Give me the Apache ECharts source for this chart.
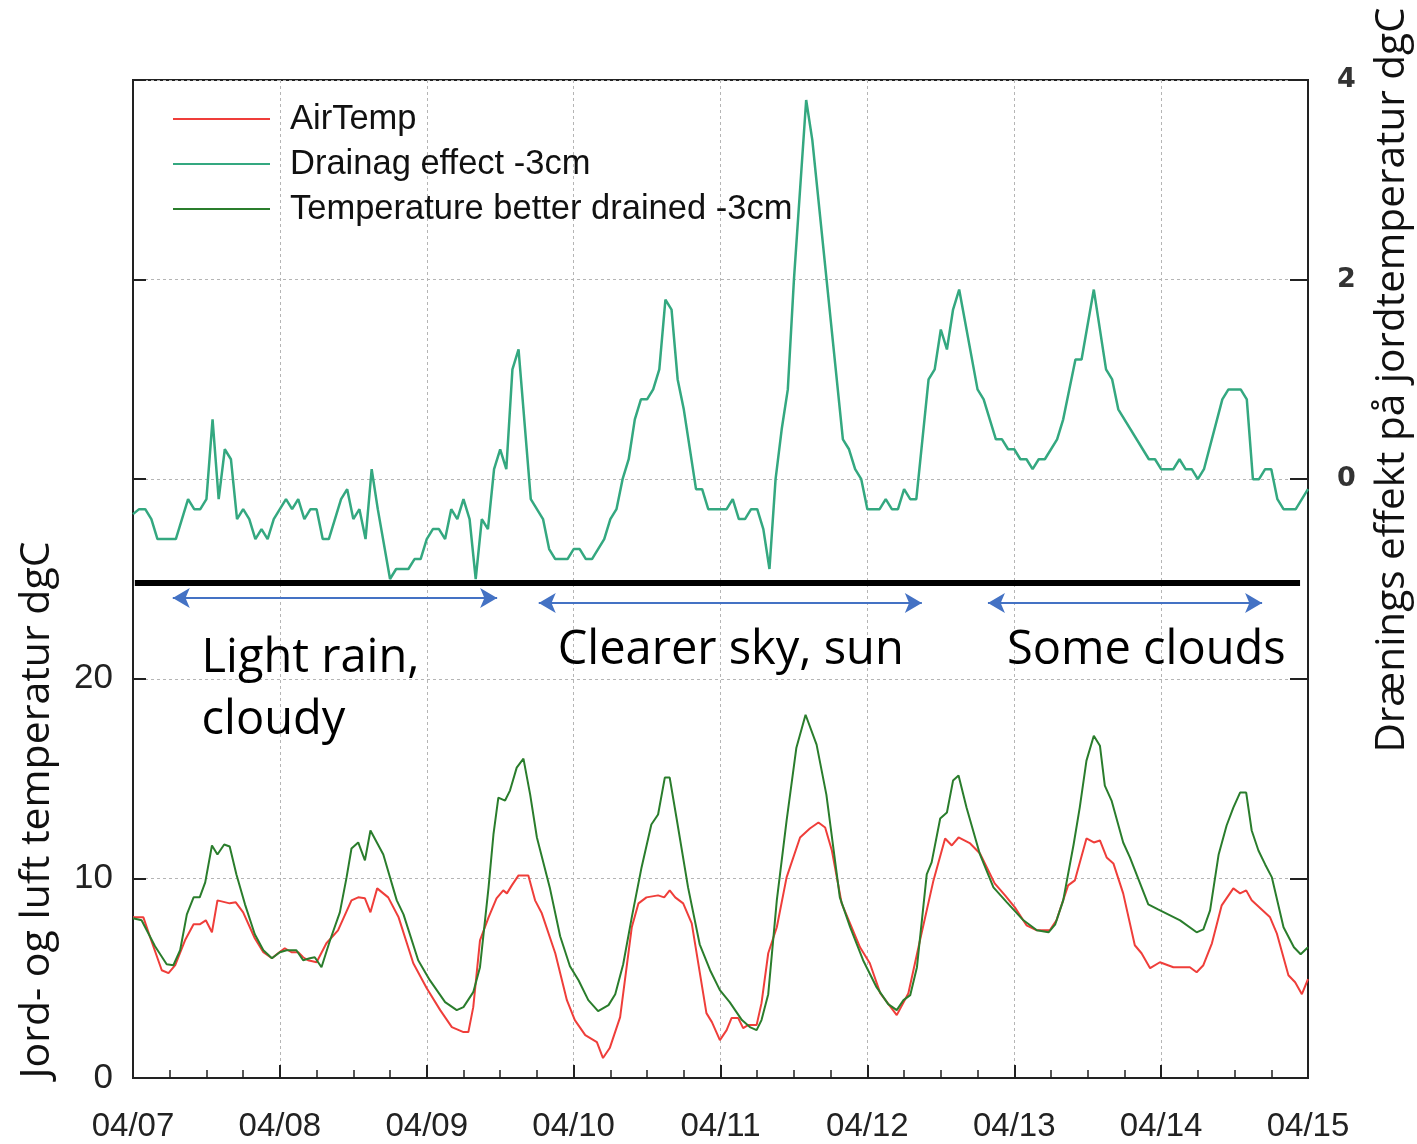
<!DOCTYPE html>
<html>
<head>
<meta charset="utf-8">
<script src="https://cdn.jsdelivr.net/npm/echarts@6/dist/echarts.min.js"></script>
<style>
html,body{margin:0;padding:0;background:#fff;}
#chart{width:1417px;height:1144px;}
</style>
</head>
<body>
<div id="chart"></div>
<script>
// x values are hours since 04/07 00:00
const dayLabels = ['04/07','04/08','04/09','04/10','04/11','04/12','04/13','04/14','04/15'];

const airTemp = [
[0,8.05],[1.7,8.05],[2.8,7.05],[4.7,5.4],[5.8,5.25],[6.9,5.65],[8.5,6.9],[9.9,7.7],[10.9,7.7],[11.9,7.9],[12.9,7.3],[13.8,8.9],[15.8,8.75],[16.8,8.8],[18,8.3],[19.9,7.0],[21.3,6.3],[22.7,6.0],[23.7,6.25],[24.8,6.5],[25.9,6.3],[27,6.3],[27.8,6.05],[28.6,5.9],[30,5.8],[31.6,6.75],[33.5,7.4],[35.7,8.9],[36.8,9.05],[37.9,9.0],[38.8,8.3],[39.9,9.5],[41.7,9.05],[43.4,8.05],[45.8,5.75],[48,4.5],[50.2,3.4],[52.1,2.55],[54,2.3],[54.8,2.3],[55.6,3.55],[56.7,6.9],[58.1,8.05],[59.4,9.0],[60.5,9.4],[61.1,9.25],[61.9,9.65],[63,10.15],[64.6,10.15],[65.7,8.9],[66.8,8.25],[69,6.25],[70.9,3.9],[72.2,2.9],[73.9,2.15],[75.8,1.8],[76.8,1.0],[77.9,1.5],[79.6,3.05],[81.5,7.55],[82.6,8.75],[83.9,9.05],[85.8,9.15],[86.8,9.05],[87.7,9.4],[88.6,9.05],[89.9,8.75],[91.3,7.75],[93.7,3.25],[94.6,2.8],[95.9,1.9],[97,2.4],[97.8,3.0],[98.9,3.0],[99.7,2.5],[100.5,2.65],[101.9,2.65],[102.7,3.75],[103.8,6.25],[105.2,7.55],[106.8,10.05],[109,12.05],[110.6,12.5],[112,12.8],[113.1,12.55],[114.2,11.4],[115.8,8.75],[118.8,6.55],[120.4,5.75],[122.1,4.25],[124.8,3.15],[126.7,4.25],[128.6,6.9],[130.8,9.9],[132.7,12.0],[133.8,11.65],[134.9,12.05],[136.8,11.75],[138.4,11.25],[140.8,9.75],[142.5,9.15],[144.1,8.55],[146,7.65],[147.7,7.4],[149.8,7.4],[150.9,7.9],[152.8,9.65],[153.9,9.9],[155.8,12.0],[157,11.8],[158,11.9],[159.1,11.05],[160.2,10.75],[161.8,9.25],[163.7,6.65],[164.8,6.25],[166.2,5.5],[167.8,5.8],[170,5.55],[172.7,5.55],[173.8,5.3],[174.9,5.65],[176.3,6.75],[177.9,8.65],[179.8,9.5],[180.9,9.25],[181.9,9.4],[182.8,8.9],[185.8,8.05],[186.9,7.25],[188.8,5.15],[189.9,4.8],[191,4.2],[192,4.95]
];

const drainEffect = [
[0,-0.35],[1,-0.3],[2,-0.3],[3,-0.4],[4,-0.6],[7,-0.6],[9,-0.2],[10,-0.3],[11,-0.3],[12,-0.2],[13,0.6],[14,-0.2],[15,0.3],[16,0.2],[17,-0.4],[18,-0.3],[19,-0.4],[20,-0.6],[21,-0.5],[22,-0.6],[23,-0.4],[25,-0.2],[26,-0.3],[27,-0.2],[28,-0.4],[29,-0.3],[30,-0.3],[31,-0.6],[32,-0.6],[34,-0.2],[35,-0.1],[36,-0.4],[37,-0.3],[38,-0.6],[39,0.1],[40,-0.3],[42,-1.0],[43,-0.9],[45,-0.9],[46,-0.8],[47,-0.8],[48,-0.6],[49,-0.5],[50,-0.5],[51,-0.6],[52,-0.3],[53,-0.4],[54,-0.2],[55,-0.4],[56,-1.0],[57,-0.4],[58,-0.5],[59,0.1],[60,0.3],[61,0.1],[62,1.1],[63,1.3],[65,-0.2],[67,-0.4],[68,-0.7],[69,-0.8],[71,-0.8],[72,-0.7],[73,-0.7],[74,-0.8],[75,-0.8],[77,-0.6],[78,-0.4],[79,-0.3],[80,0.0],[81,0.2],[82,0.6],[83,0.8],[84,0.8],[85,0.9],[86,1.1],[87,1.8],[88,1.7],[89,1.0],[90,0.7],[92,-0.1],[93,-0.1],[94,-0.3],[97,-0.3],[98,-0.2],[99,-0.4],[100,-0.4],[101,-0.3],[102,-0.3],[103,-0.5],[104,-0.9],[105,0.0],[106,0.5],[107,0.9],[108,2.0],[110,3.8],[111,3.4],[116,0.4],[117,0.3],[118,0.1],[119,0.0],[120,-0.3],[122,-0.3],[123,-0.2],[124,-0.3],[125,-0.3],[126,-0.1],[127,-0.2],[128,-0.2],[130,1.0],[131,1.1],[132,1.5],[133,1.3],[134,1.7],[135,1.9],[138,0.9],[139,0.8],[141,0.4],[142,0.4],[143,0.3],[144,0.3],[145,0.2],[146,0.2],[147,0.1],[148,0.2],[149,0.2],[151,0.4],[152,0.6],[154,1.2],[155,1.2],[157,1.9],[159,1.1],[160,1.0],[161,0.7],[166,0.2],[167,0.2],[168,0.1],[170,0.1],[171,0.2],[172,0.1],[173,0.1],[174,0.0],[175,0.1],[178,0.8],[179,0.9],[181,0.9],[182,0.8],[183,0.0],[184,0.0],[185,0.1],[186,0.1],[187,-0.2],[188,-0.3],[190,-0.3],[192,-0.1]
];

const betterDrained = [
[0,8.0],[1.4,7.9],[3.6,6.6],[5.5,5.7],[6.6,5.65],[7.7,6.4],[8.8,8.2],[9.9,9.05],[10.9,9.05],[11.8,9.8],[12.9,11.65],[13.8,11.2],[14.9,11.7],[15.8,11.6],[16.9,10.2],[18.3,8.7],[19.9,7.2],[21.3,6.4],[22.7,6.0],[24,6.3],[25.1,6.4],[26.7,6.4],[27.8,5.9],[28.9,6.0],[29.7,6.05],[30.8,5.55],[32.2,6.9],[33.8,8.3],[34.9,10.05],[35.7,11.5],[36.8,11.8],[37.9,10.9],[38.8,12.4],[40.9,11.2],[43.1,8.9],[44.2,8.2],[46.6,5.9],[48.5,4.9],[51,3.8],[52.9,3.4],[54,3.55],[55.6,4.3],[56.7,5.55],[58.1,9.55],[58.9,12.2],[59.7,14.05],[60.8,13.9],[61.6,14.4],[62.7,15.55],[63.8,16.0],[64.9,14.2],[66,12.05],[68.1,9.55],[69.8,7.1],[71.4,5.6],[72.8,4.9],[74.4,3.9],[76,3.35],[77.7,3.65],[78.8,4.2],[80.1,5.7],[81.5,8.05],[83.1,10.55],[84.7,12.7],[85.8,13.2],[86.9,15.05],[87.7,15.05],[88.8,13.05],[90.7,9.55],[92.6,6.7],[94.3,5.4],[95.9,4.4],[97.5,3.8],[99.5,2.9],[100.8,2.55],[101.9,2.4],[102.7,2.9],[103.8,4.2],[105.2,8.9],[106.8,12.9],[108.4,16.55],[109.9,18.2],[111.7,16.7],[113.3,14.2],[115.5,9.05],[117.2,7.55],[119.3,5.9],[121.5,4.55],[123.4,3.7],[124.8,3.4],[125.9,3.9],[127,4.15],[128.1,5.55],[129.7,10.2],[130.5,10.8],[131.9,13.0],[133,13.3],[134,14.9],[134.9,15.15],[136.2,13.55],[138.4,11.2],[140.6,9.55],[142.8,8.8],[145.5,7.9],[147.7,7.4],[149.6,7.3],[150.7,7.7],[152,8.9],[153.7,11.7],[154.7,13.55],[155.8,15.9],[157,17.15],[158,16.65],[158.8,14.65],[159.9,13.9],[161.8,11.8],[162.9,11.05],[165.9,8.7],[167.5,8.45],[171.1,7.9],[173.8,7.3],[174.9,7.45],[176,8.4],[177.4,11.2],[178.7,12.65],[179.8,13.55],[180.9,14.3],[181.9,14.3],[182.8,12.4],[183.9,11.4],[185,10.7],[186.1,10.05],[188,7.55],[189.7,6.55],[190.8,6.2],[192,6.55]
];

const seriesNames = ['AirTemp','Drainag effect -3cm','Temperature better drained -3cm'];
const leftTitle = 'Jord- og luft temperatur dgC';
const rightTitle = 'Drænings effekt på jordtemperatur dgC';
// annotations: [startHour, endHour, level on right axis]
const divider = [0.3, 190.7, -1.04];
const periods = [
  {from: 6.5, to: 59.5, level: -1.19, text: 'Light rain,\ncloudy', textAt: [11.2, -2.11]},
  {from: 66.3, to: 128.9, level: -1.24, text: 'Clearer sky, sun', textAt: [69.4, -1.72]},
  {from: 139.7, to: 184.5, level: -1.24, text: 'Some clouds', textAt: [142.8, -1.72]}
];

const chart = echarts.init(document.getElementById('chart'), null, {renderer: 'canvas'});

const markLineData = [
  [{coord: [divider[0], divider[2]], symbol: 'none', lineStyle: {color: '#000', width: 6, type: 'solid'}},
   {coord: [divider[1], divider[2]], symbol: 'none'}]
].concat(periods.map(p => [
  {coord: [p.from, p.level], symbol: 'arrow', symbolSize: [15, 17], lineStyle: {color: '#4472c4', width: 2, type: 'solid'}},
  {coord: [p.to, p.level], symbol: 'arrow', symbolSize: [15, 17]}
]));

const markPointData = periods.map(p => ({
  coord: p.textAt,
  symbol: 'circle',
  symbolSize: 0,
  label: {
    show: true, position: 'inside', align: 'left', verticalAlign: 'middle',
    formatter: p.text, fontFamily: '"Open Sans"', fontSize: 47, lineHeight: 62, color: '#000'
  }
}));

const option = {
  animation: false,
  backgroundColor: '#fff',
  grid: {left: 133, right: 109, top: 80, bottom: 66, show: true, borderColor: '#222', borderWidth: 2, backgroundColor: 'transparent'},
  legend: {
    data: seriesNames,
    orient: 'vertical',
    left: 173, top: 99, padding: 0,
    icon: 'rect', itemWidth: 97, itemHeight: 2, itemGap: 5,
    selectedMode: false,
    textStyle: {fontFamily: '"Liberation Sans"', fontSize: 34.5, color: '#111', lineHeight: 40, padding: [0, 0, 0, 15]}
  },
  xAxis: {
    type: 'value', min: 0, max: 192, interval: 24,
    axisLine: {show: true, lineStyle: {color: '#222', width: 2}},
    axisTick: {show: true, inside: true, length: 13, lineStyle: {color: '#222', width: 2}},
    minorTick: {show: true, splitNumber: 4, length: 8, lineStyle: {color: '#222', width: 1.5}},
    splitLine: {show: true, lineStyle: {color: '#b5b5b5', width: 1, type: [3, 3]}},
    axisLabel: {
      formatter: v => dayLabels[Math.round(v / 24)] || '',
      fontFamily: '"Liberation Sans"', fontSize: 33, color: '#222', margin: 32,
      showMinLabel: true, showMaxLabel: true
    }
  },
  yAxis: [
    {
      type: 'value', min: 0, max: 50, interval: 10, position: 'left',
      axisLine: {show: true, lineStyle: {color: '#222', width: 2}},
      axisTick: {show: true, inside: true, length: 13, lineStyle: {color: '#222', width: 2}},
      splitLine: {show: false},
      axisLabel: {formatter: v => (v <= 20 ? String(v) : ''), fontFamily: '"Liberation Sans"', fontSize: 35, color: '#222', margin: 20, padding: [10, 0, 0, 0]}
    },
    {
      type: 'value', min: -6, max: 4, interval: 2, position: 'right',
      axisLine: {show: true, lineStyle: {color: '#222', width: 2}},
      axisTick: {show: true, inside: true, length: 18, lineStyle: {color: '#222', width: 2}},
      splitLine: {show: true, lineStyle: {color: '#b5b5b5', width: 1, type: [3, 3]}},
      axisLabel: {formatter: v => (v >= 0 ? String(v) : ''), fontFamily: '"DejaVu Sans"', fontWeight: 'bold', fontSize: 27, color: '#333', margin: 29, padding: [10, 0, 0, 0]}
    }
  ],
  series: [
    {
      name: seriesNames[0], type: 'line', yAxisIndex: 0, data: airTemp,
      symbol: 'none', lineStyle: {color: '#ef3e3a', width: 2}, itemStyle: {color: '#ef3e3a'}
    },
    {
      name: seriesNames[1], type: 'line', yAxisIndex: 1, data: drainEffect,
      symbol: 'none', lineStyle: {color: '#34a880', width: 2.5}, itemStyle: {color: '#34a880'},
      markLine: {silent: true, symbol: ['none', 'none'], label: {show: false}, emphasis: {disabled: true}, data: markLineData},
      markPoint: {silent: true, data: markPointData}
    },
    {
      name: seriesNames[2], type: 'line', yAxisIndex: 0, data: betterDrained,
      symbol: 'none', lineStyle: {color: '#2a7d2c', width: 2}, itemStyle: {color: '#2a7d2c'}
    }
  ],
  graphic: [
    {type: 'text', x: 37, y: 810, rotation: Math.PI / 2,
     style: {text: leftTitle, fontFamily: '"Open Sans"', fontSize: 41, fill: '#111', align: 'center', verticalAlign: 'middle'}},
    {type: 'text', x: 1392, y: 380, rotation: Math.PI / 2,
     style: {text: rightTitle, fontFamily: '"Open Sans"', fontSize: 40.5, fill: '#111', align: 'center', verticalAlign: 'middle'}}
  ]
};
chart.setOption(option);
</script>
</body>
</html>
